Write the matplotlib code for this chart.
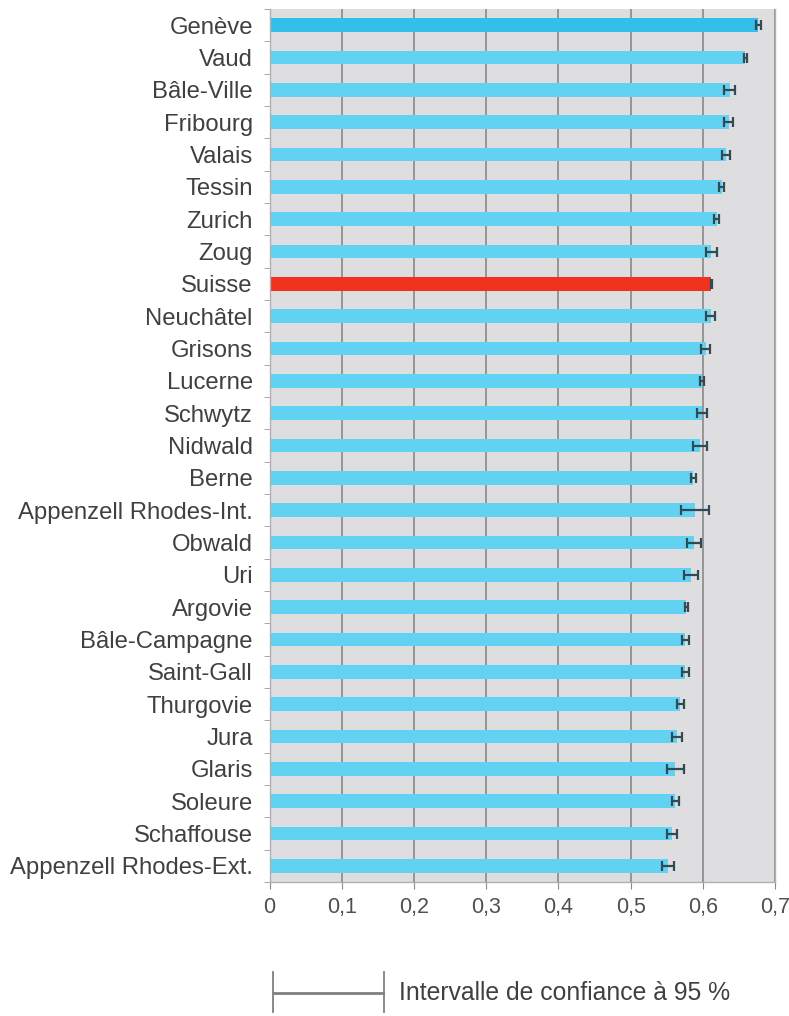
import numpy as np
import matplotlib.pyplot as plt
from matplotlib.lines import Line2D

# cantons, du haut vers le bas
cantons = ["Genève", "Vaud", "Bâle-Ville", "Fribourg", "Valais", "Tessin",
           "Zurich", "Zoug", "Suisse", "Neuchâtel", "Grisons", "Lucerne",
           "Schwytz", "Nidwald", "Berne", "Appenzell Rhodes-Int.", "Obwald",
           "Uri", "Argovie", "Bâle-Campagne", "Saint-Gall", "Thurgovie",
           "Jura", "Glaris", "Soleure", "Schaffouse", "Appenzell Rhodes-Ext."]
valeurs = [0.677, 0.659, 0.637, 0.636, 0.632, 0.626, 0.619, 0.612, 0.612,
           0.611, 0.604, 0.599, 0.599, 0.596, 0.587, 0.589, 0.588, 0.584,
           0.577, 0.576, 0.576, 0.569, 0.564, 0.562, 0.562, 0.557, 0.552]
# demi-largeur de l'intervalle de confiance
erreurs = [0.004, 0.002, 0.007, 0.006, 0.005, 0.003, 0.003, 0.007, 0.001,
           0.006, 0.006, 0.003, 0.007, 0.010, 0.003, 0.019, 0.010, 0.010,
           0.002, 0.005, 0.005, 0.005, 0.007, 0.012, 0.005, 0.007, 0.008]
ticks_x = [0, 0.1, 0.2, 0.3, 0.4, 0.5, 0.6, 0.7]

plt.rcParams['font.family'] = ['Liberation Sans', 'DejaVu Sans']

W, H = 789, 1016
fig = plt.figure(figsize=(W / 100, H / 100), dpi=100)
ax = fig.add_axes([269.5 / W, 1 - 882 / H, (775 - 269.5) / W, (882 - 9) / H])
ax.set_facecolor('#dedde0')

couleurs = []
for c in cantons:
    if c == "Suisse":
        couleurs.append('#f0321e')
    elif c == "Genève":
        couleurs.append('#33bfea')
    else:
        couleurs.append('#62d2f2')

y = np.arange(len(cantons))
ax.set_axisbelow(True)
ax.barh(y, valeurs, height=0.43, color=couleurs, zorder=2)
ax.errorbar(valeurs, y, xerr=erreurs, fmt='none', ecolor='#2f4b55',
            elinewidth=1.6, capsize=3.8, capthick=1.6, zorder=3)

ax.set_xlim(0, 0.7)
ax.set_ylim(len(cantons) - 0.5, -0.5)
ax.set_xticks(ticks_x)
ax.set_xticklabels([("%g" % t).replace('.', ',') for t in ticks_x],
                   fontsize=15.5, color='#505050')
ax.set_yticks(y)
ax.set_yticklabels(cantons, fontsize=17.2, color='#404040')
ax.set_yticks(np.arange(len(cantons) + 1) - 0.5, minor=True)
ax.tick_params(axis='y', which='major', length=0, pad=12)
ax.tick_params(axis='y', which='minor', length=4, color='#999999')
ax.tick_params(axis='x', length=5, color='#8a8a8a', pad=6)
ax.grid(axis='x', color='#8a8a8a', linewidth=1.2)

for s in ['top']:
    ax.spines[s].set_visible(False)
for s in ['left', 'right', 'bottom']:
    ax.spines[s].set_color('#b0b0b0')
    ax.spines[s].set_linewidth(1)

# légende de l'intervalle de confiance
def fx(px):
    return px / W

def fy(py):
    return 1 - py / H

fig.add_artist(Line2D([fx(273), fx(273)], [fy(972), fy(1012)], color='#808080', lw=1.3))
fig.add_artist(Line2D([fx(384), fx(384)], [fy(972), fy(1012)], color='#808080', lw=1.3))
fig.add_artist(Line2D([fx(274), fx(383)], [fy(993), fy(993)], color='#808080', lw=2))
fig.text(fx(399), fy(993), "Intervalle de confiance à 95 %", fontsize=17.8,
         color='#404040', va='center', ha='left')

fig.savefig('out.png', dpi=100, facecolor='white')
